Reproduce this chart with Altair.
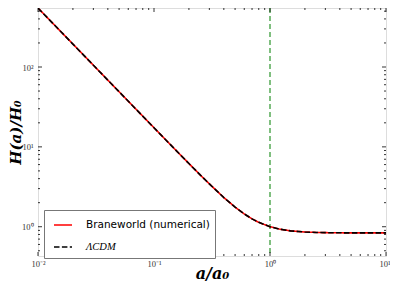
import altair as alt
import pandas as pd

# ---- data ----
a_vals = [0.01, 0.02, 0.05, 0.1, 0.15, 0.2, 0.25, 0.3, 0.4, 0.5, 0.6, 0.7, 0.8,
          1.0, 1.2, 1.5, 2.0, 2.5, 3.0, 4.0, 5.0, 7.0, 10.0]
brane_H = [547.7, 193.6, 49.0, 17.34, 9.47, 6.18, 4.46, 3.44, 2.32, 1.76, 1.445, 1.255, 1.134,
           1.0, 0.935, 0.888, 0.859, 0.848, 0.843, 0.839, 0.838, 0.837, 0.837]
lcdm_H = [547.7, 193.6, 49.0, 17.34, 9.47, 6.18, 4.46, 3.44, 2.32, 1.76, 1.445, 1.255, 1.134,
          1.0, 0.935, 0.888, 0.859, 0.848, 0.843, 0.839, 0.838, 0.837, 0.837]
series_names = ["Braneworld (numerical)", "ΛCDM"]
vline_x = [1.0]

x_major = [0.01, 0.1, 1, 10]
x_minor = [m * d for d in [0.01, 0.1, 1] for m in range(2, 10)]
y_major = [1, 10, 100]
y_minor = [0.5, 0.6, 0.7, 0.8, 0.9] + [m * d for d in [1, 10] for m in range(2, 10)] + [200, 300, 400, 500]

X_DOMAIN = [0.01, 10]
Y_DOMAIN = [0.43, 548]
W, H = 348, 248

rows = []
for a, h in zip(a_vals, brane_H):
    rows.append({"a": a, "H": h, "series": series_names[0]})
for a, h in zip(a_vals, lcdm_H):
    rows.append({"a": a, "H": h, "series": series_names[1]})
df = pd.DataFrame(rows)

xscale = alt.Scale(type="log", domain=X_DOMAIN, nice=False)
yscale = alt.Scale(type="log", domain=Y_DOMAIN, nice=False)

title_font = "DejaVu Serif"
tick_font = "Liberation Serif"

xaxis = alt.Axis(values=x_major, ticks=False, domain=False, grid=False,
                 labelExpr="datum.value < 0.05 ? '10⁻²' : datum.value < 0.5 ? '10⁻¹' : datum.value < 5 ? '10⁰' : '10¹'",
                 labelAlign={"expr": "datum.value > 5 ? 'right' : 'center'"},
                 labelOffset={"expr": "datum.value > 5 ? 4 : 0"},
                 labelFont=tick_font, labelFontSize=8.5, labelColor="#333", labelPadding=3,
                 title="a/a₀", titleFont=title_font, titleFontSize=16, titleFontStyle="italic",
                 titleFontWeight="bold", titleBaseline="alphabetic", titleY=22,
                 titleColor="black")
yaxis = alt.Axis(values=y_major, ticks=False, domain=False, grid=False,
                 labelExpr="datum.value < 5 ? '10⁰' : datum.value < 50 ? '10¹' : '10²'",
                 labelFont=tick_font, labelFontSize=8.5, labelColor="#333", labelPadding=5,
                 title="H(a)/H₀", titleFont=title_font, titleFontSize=15, titleFontStyle="italic",
                 titleFontWeight="bold", titleX=-15, titleColor="black")

legend = alt.Legend(
    title=None, orient="none", legendX=6, legendY=202,
    strokeColor="#777", fillColor="white", padding=5,
    symbolType="stroke", symbolSize=324, symbolStrokeWidth=1.6,
    symbolOffset=4, labelOffset=13, rowPadding=6,
    labelFont={"expr": "datum.label == 'ΛCDM' ? 'Liberation Serif' : 'DejaVu Sans'"},
    labelFontStyle={"expr": "datum.label == 'ΛCDM' ? 'italic' : 'normal'"},
    labelFontSize=10.5, labelColor="black", labelLimit=300)

lines = alt.Chart(df).mark_line(strokeWidth=1.6, clip=True).encode(
    x=alt.X("a:Q", scale=xscale, axis=xaxis),
    y=alt.Y("H:Q", scale=yscale, axis=yaxis),
    color=alt.Color("series:N",
                    scale=alt.Scale(domain=series_names, range=["red", "black"]),
                    legend=legend),
    strokeDash=alt.StrokeDash("series:N",
                              scale=alt.Scale(domain=series_names, range=[[1, 0], [5.5, 2.4]]),
                              legend=legend),
    order=alt.Order("series:N", sort="ascending"),
)

vline = alt.Chart(pd.DataFrame({"a": vline_x})).mark_rule(
    color="#7fbf7f", strokeWidth=2, strokeDash=[5, 3]).encode(
    x=alt.X("a:Q", scale=xscale))


def xticks(vals, length, top):
    d = pd.DataFrame({"v": vals})
    if top:
        yy, yy2 = alt.value(0), alt.value(length)
    else:
        yy, yy2 = alt.value(H), alt.value(H - length)
    return alt.Chart(d).mark_rule(color="black", strokeWidth=0.8).encode(
        x=alt.X("v:Q", scale=xscale), y=yy, y2=yy2)


def yticks(vals, length, right):
    d = pd.DataFrame({"v": vals})
    if right:
        xx, xx2 = alt.value(W), alt.value(W - length)
    else:
        xx, xx2 = alt.value(0), alt.value(length)
    return alt.Chart(d).mark_rule(color="black", strokeWidth=0.8).encode(
        y=alt.Y("v:Q", scale=yscale), x=xx, x2=xx2)


ticks = [xticks(x_major, 4, False), xticks(x_major, 4, True),
         xticks(x_minor, 2, False), xticks(x_minor, 2, True),
         yticks(y_major, 4, False), yticks(y_major, 4, True),
         yticks(y_minor, 2, False), yticks(y_minor, 2, True)]

chart = alt.layer(vline, lines, *ticks).properties(
    width=W, height=H,
    autosize=alt.AutoSizeParams(type="none"),
    padding={"left": 30, "top": 0, "right": 4, "bottom": 26},
).configure_view(stroke="black", strokeWidth=1.2).configure(background="white")

chart.save("out.html", embed_options={"renderer": "svg", "actions": False})
